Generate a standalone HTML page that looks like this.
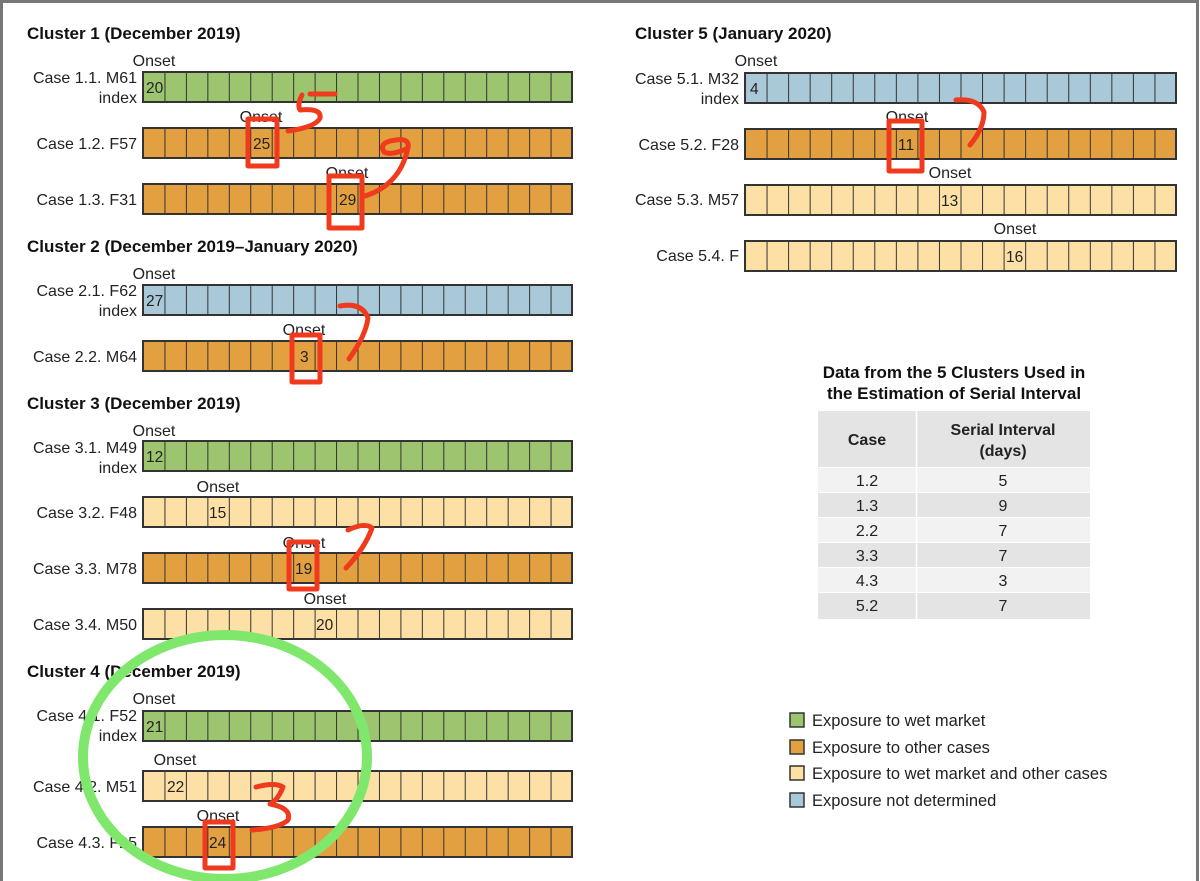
<!DOCTYPE html>
<html><head><meta charset="utf-8"><style>
html,body{margin:0;padding:0;background:#fff}
svg{display:block}
text{font-family:"Liberation Sans",sans-serif;fill:#222}
.t{font-size:17px;font-weight:bold;fill:#111}
.l{font-size:16px;text-anchor:end}
.o{font-size:16px;text-anchor:middle}
.n{font-size:15.5px}
.red{fill:none;stroke:#f03a1e;stroke-width:5;stroke-linecap:round;stroke-linejoin:round}
</style></head><body>
<svg width="1200" height="881" viewBox="0 0 1200 881" xmlns="http://www.w3.org/2000/svg">
<defs>
<pattern id="gL" patternUnits="userSpaceOnUse" x="143" y="0" width="21.45" height="881"><rect width="21.45" height="881" fill="#9dc46e"/><line x1="0" y1="0" x2="0" y2="881" stroke="#333" stroke-width="2"/></pattern>
<pattern id="oL" patternUnits="userSpaceOnUse" x="143" y="0" width="21.45" height="881"><rect width="21.45" height="881" fill="#e3a040"/><line x1="0" y1="0" x2="0" y2="881" stroke="#333" stroke-width="2"/></pattern>
<pattern id="yL" patternUnits="userSpaceOnUse" x="143" y="0" width="21.45" height="881"><rect width="21.45" height="881" fill="#fde0a6"/><line x1="0" y1="0" x2="0" y2="881" stroke="#333" stroke-width="2"/></pattern>
<pattern id="bL" patternUnits="userSpaceOnUse" x="143" y="0" width="21.45" height="881"><rect width="21.45" height="881" fill="#a9c8d8"/><line x1="0" y1="0" x2="0" y2="881" stroke="#333" stroke-width="2"/></pattern>
<pattern id="oR" patternUnits="userSpaceOnUse" x="745" y="0" width="21.55" height="881"><rect width="21.55" height="881" fill="#e3a040"/><line x1="0" y1="0" x2="0" y2="881" stroke="#333" stroke-width="2"/></pattern>
<pattern id="yR" patternUnits="userSpaceOnUse" x="745" y="0" width="21.55" height="881"><rect width="21.55" height="881" fill="#fde0a6"/><line x1="0" y1="0" x2="0" y2="881" stroke="#333" stroke-width="2"/></pattern>
<pattern id="bR" patternUnits="userSpaceOnUse" x="745" y="0" width="21.55" height="881"><rect width="21.55" height="881" fill="#a9c8d8"/><line x1="0" y1="0" x2="0" y2="881" stroke="#333" stroke-width="2"/></pattern>
</defs>
<rect x="1.5" y="1.5" width="1196" height="890" fill="none" stroke="#777" stroke-width="3"/>

<text class="t" x="27" y="39">Cluster 1 (December 2019)</text>
<text class="o" x="154" y="66">Onset</text>
<text class="l" x="137" y="83">Case 1.1. M61</text><text class="l" x="137" y="103">index</text>
<rect x="143" y="72" width="429" height="30" fill="url(#gL)" stroke="#333" stroke-width="2"/>
<text class="n" x="146" y="93">20</text>

<text class="o" x="261" y="122">Onset</text>
<text class="l" x="137" y="149">Case 1.2. F57</text>
<rect x="143" y="128" width="429" height="30" fill="url(#oL)" stroke="#333" stroke-width="2"/>
<text class="n" x="253" y="149">25</text>

<text class="o" x="347" y="178">Onset</text>
<text class="l" x="137" y="205">Case 1.3. F31</text>
<rect x="143" y="184" width="429" height="30" fill="url(#oL)" stroke="#333" stroke-width="2"/>
<text class="n" x="339" y="205">29</text>

<text class="t" x="27" y="252">Cluster 2 (December 2019–January 2020)</text>
<text class="o" x="154" y="279">Onset</text>
<text class="l" x="137" y="296">Case 2.1. F62</text><text class="l" x="137" y="316">index</text>
<rect x="143" y="285" width="429" height="30" fill="url(#bL)" stroke="#333" stroke-width="2"/>
<text class="n" x="146" y="306">27</text>

<text class="o" x="304" y="335">Onset</text>
<text class="l" x="137" y="362">Case 2.2. M64</text>
<rect x="143" y="341" width="429" height="30" fill="url(#oL)" stroke="#333" stroke-width="2"/>
<text class="n" x="300" y="362">3</text>

<text class="t" x="27" y="409">Cluster 3 (December 2019)</text>
<text class="o" x="154" y="436">Onset</text>
<text class="l" x="137" y="453">Case 3.1. M49</text><text class="l" x="137" y="473">index</text>
<rect x="143" y="441" width="429" height="30" fill="url(#gL)" stroke="#333" stroke-width="2"/>
<text class="n" x="146" y="462">12</text>

<text class="o" x="218" y="492">Onset</text>
<text class="l" x="137" y="518">Case 3.2. F48</text>
<rect x="143" y="497" width="429" height="30" fill="url(#yL)" stroke="#333" stroke-width="2"/>
<text class="n" x="209" y="518">15</text>

<text class="o" x="304" y="548">Onset</text>
<text class="l" x="137" y="574">Case 3.3. M78</text>
<rect x="143" y="553" width="429" height="30" fill="url(#oL)" stroke="#333" stroke-width="2"/>
<text class="n" x="295" y="574">19</text>

<text class="o" x="325" y="604">Onset</text>
<text class="l" x="137" y="630">Case 3.4. M50</text>
<rect x="143" y="609" width="429" height="30" fill="url(#yL)" stroke="#333" stroke-width="2"/>
<text class="n" x="316" y="630">20</text>

<text class="t" x="27" y="677">Cluster 4 (December 2019)</text>
<text class="o" x="154" y="704">Onset</text>
<text class="l" x="137" y="721">Case 4.1. F52</text><text class="l" x="137" y="741">index</text>
<rect x="143" y="711" width="429" height="30" fill="url(#gL)" stroke="#333" stroke-width="2"/>
<text class="n" x="146" y="732">21</text>

<text class="o" x="175" y="765">Onset</text>
<text class="l" x="137" y="792">Case 4.2. M51</text>
<rect x="143" y="771" width="429" height="30" fill="url(#yL)" stroke="#333" stroke-width="2"/>
<text class="n" x="167" y="792">22</text>

<text class="o" x="218" y="821">Onset</text>
<text class="l" x="137" y="848">Case 4.3. F25</text>
<rect x="143" y="827" width="429" height="30" fill="url(#oL)" stroke="#333" stroke-width="2"/>
<text class="n" x="209" y="848">24</text>

<text class="t" x="635" y="39">Cluster 5 (January 2020)</text>
<text class="o" x="756" y="66">Onset</text>
<text class="l" x="739" y="84">Case 5.1. M32</text><text class="l" x="739" y="104">index</text>
<rect x="745" y="73" width="431" height="30" fill="url(#bR)" stroke="#333" stroke-width="2"/>
<text class="n" x="750" y="94">4</text>

<text class="o" x="907" y="122">Onset</text>
<text class="l" x="739" y="150">Case 5.2. F28</text>
<rect x="745" y="129" width="431" height="30" fill="url(#oR)" stroke="#333" stroke-width="2"/>
<text class="n" x="898" y="150">11</text>

<text class="o" x="950" y="178">Onset</text>
<text class="l" x="739" y="205">Case 5.3. M57</text>
<rect x="745" y="185" width="431" height="30" fill="url(#yR)" stroke="#333" stroke-width="2"/>
<text class="n" x="941" y="206">13</text>

<text class="o" x="1015" y="234">Onset</text>
<text class="l" x="739" y="261">Case 5.4. F</text>
<rect x="745" y="241" width="431" height="30" fill="url(#yR)" stroke="#333" stroke-width="2"/>
<text class="n" x="1006" y="262">16</text>

<text class="t" x="954" y="378" text-anchor="middle">Data from the 5 Clusters Used in</text>
<text class="t" x="954" y="399" text-anchor="middle">the Estimation of Serial Interval</text>
<rect x="818" y="411" width="272" height="56" fill="#e4e4e4"/>
<text x="867" y="445" font-size="16" font-weight="bold" text-anchor="middle" fill="#222">Case</text>
<text x="1003" y="435" font-size="16" font-weight="bold" text-anchor="middle" fill="#222">Serial Interval</text>
<text x="1003" y="456" font-size="16" font-weight="bold" text-anchor="middle" fill="#222">(days)</text>
<rect x="818" y="468" width="272" height="24" fill="#f2f2f2"/>
<rect x="818" y="493" width="272" height="24" fill="#e4e4e4"/>
<rect x="818" y="518" width="272" height="24" fill="#f2f2f2"/>
<rect x="818" y="543" width="272" height="24" fill="#e4e4e4"/>
<rect x="818" y="568" width="272" height="24" fill="#f2f2f2"/>
<rect x="818" y="593" width="272" height="26" fill="#e4e4e4"/>
<line x1="916.5" y1="411" x2="916.5" y2="619" stroke="#fff" stroke-width="1.5"/>
<g font-size="16" text-anchor="middle">
<text x="867" y="486">1.2</text><text x="1003" y="486">5</text>
<text x="867" y="511">1.3</text><text x="1003" y="511">9</text>
<text x="867" y="536">2.2</text><text x="1003" y="536">7</text>
<text x="867" y="561">3.3</text><text x="1003" y="561">7</text>
<text x="867" y="586">4.3</text><text x="1003" y="586">3</text>
<text x="867" y="611">5.2</text><text x="1003" y="611">7</text>
</g>

<rect x="790" y="713" width="14" height="14" fill="#9dc46e" stroke="#333" stroke-width="1.5"/>
<rect x="790" y="740" width="14" height="14" fill="#e3a040" stroke="#333" stroke-width="1.5"/>
<rect x="790" y="766" width="14" height="14" fill="#fde0a6" stroke="#333" stroke-width="1.5"/>
<rect x="790" y="793" width="14" height="14" fill="#a9c8d8" stroke="#333" stroke-width="1.5"/>
<g font-size="16.5">
<text x="812" y="726">Exposure to wet market</text>
<text x="812" y="753">Exposure to other cases</text>
<text x="812" y="779">Exposure to wet market and other cases</text>
<text x="812" y="806">Exposure not determined</text>
</g>

<ellipse cx="225" cy="757" rx="142" ry="122" fill="none" stroke="#7fe86c" stroke-width="10"/>
<rect class="red" x="248" y="119" width="29" height="47"/>
<rect class="red" x="329" y="176" width="33" height="52"/>
<rect class="red" x="292" y="335" width="28" height="47"/>
<rect class="red" x="289" y="542" width="28" height="47"/>
<rect class="red" x="205" y="822" width="28" height="46"/>
<rect class="red" x="889" y="121" width="33" height="50"/>
<path class="red" d="M310 94 L335 94"/>
<path class="red" d="M302 95 Q297 105 300 110 Q322 108 320 118 Q316 127 288 131"/>
<path class="red" d="M408 148 Q410 138 396 140 Q378 142 384 152 Q392 156 408 148 Q400 185 365 196"/>
<path class="red" d="M340 306 Q362 302 368 318 Q366 335 349 359"/>
<path class="red" d="M348 530 Q365 522 372 528 Q365 548 346 568"/>
<path class="red" d="M256 787 Q275 782 283 787 Q278 800 270 804 Q292 808 288 820 Q280 828 252 830"/>
<path class="red" d="M956 100 Q978 98 984 112 Q984 128 970 145"/>
</svg>
</body></html>
